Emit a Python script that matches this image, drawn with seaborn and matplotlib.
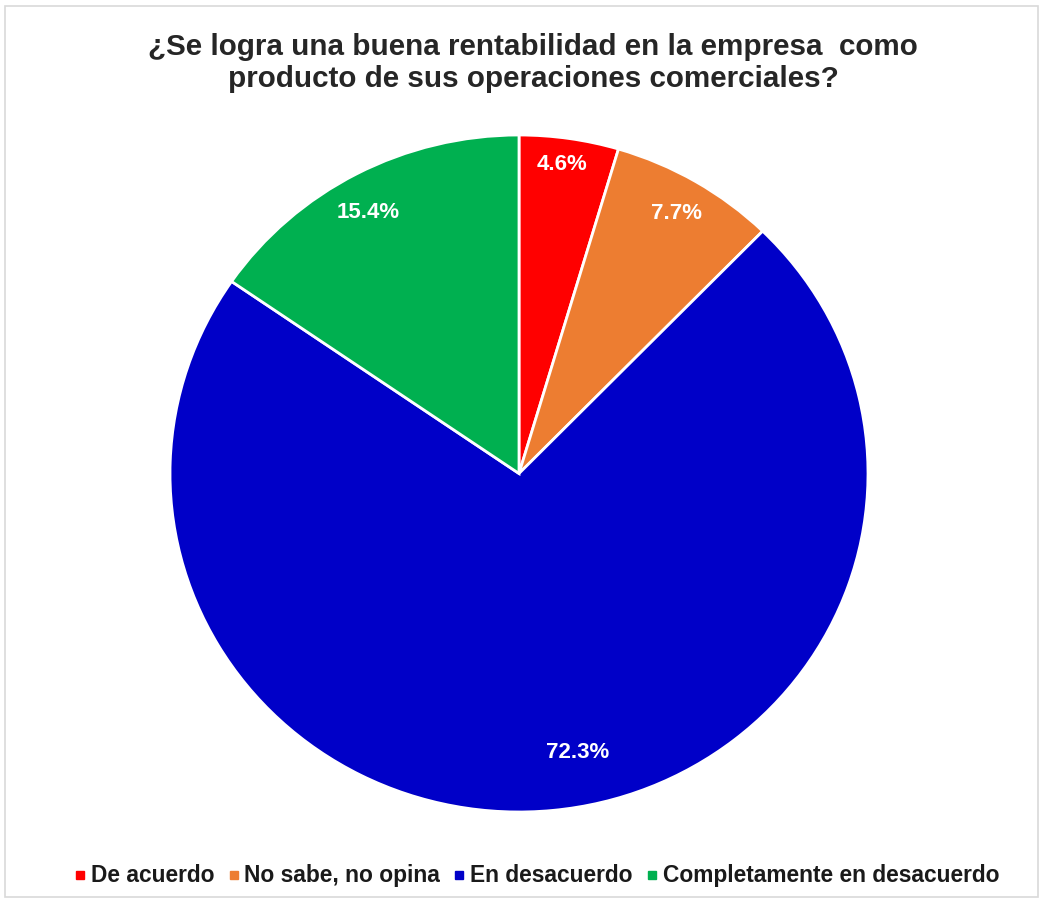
import matplotlib
matplotlib.use("Agg")
import matplotlib.pyplot as plt
from matplotlib.lines import Line2D
from matplotlib.patches import Rectangle
import seaborn as sns
import numpy as np

# Survey responses
categories = ["De acuerdo", "No sabe, no opina", "En desacuerdo",
              "Completamente en desacuerdo"]
shares = [4.6, 7.7, 72.3, 15.4]
colors = ["#FF0000", "#ED7D31", "#0000C8", "#00B050"]
title = ("¿Se logra una buena rentabilidad en la empresa  como\n"
         "producto de sus operaciones comerciales?")

sns.set_theme(style="white")
plt.rcParams["font.family"] = ["Liberation Sans", "DejaVu Sans"]

W, H = 1043, 901
fig = plt.figure(figsize=(W / 100, H / 100), dpi=100)
fig.patch.set_facecolor("white")

# light frame around the chart area
fig.add_artist(Rectangle((5 / W, 4 / H), 1033 / W, 891 / H,
                         transform=fig.transFigure, fill=False,
                         edgecolor="#D9D9D9", linewidth=1.2))

# pie bounding box in pixels: x 170..868, y 135..812
ax = fig.add_axes([170 / W, (H - 812) / H, 698 / W, 677 / H])
wedges, texts, autotexts = ax.pie(
    shares, colors=colors, startangle=90, counterclock=False,
    autopct="%.1f%%", pctdistance=0.89,
    wedgeprops=dict(edgecolor="white", linewidth=2),
    textprops=dict(color="white", fontsize=16, fontweight="bold"),
)
ax.set_aspect("auto")
ax.set_xlim(-1, 1)
ax.set_ylim(-1, 1)

# best-fit style label placement: radius and angular nudge per slice
label_radius = [0.92, 0.89, 0.84, 0.885]
label_nudge = [0.5, 0.0, 6.0, 1.5]
for w, t, r, d in zip(wedges, autotexts, label_radius, label_nudge):
    ang = np.deg2rad((w.theta1 + w.theta2) / 2 + d)
    t.set_position((r * np.cos(ang), r * np.sin(ang)))

fig.text(0.511, (H - 63) / H, title, ha="center", va="center",
         fontsize=21.3, fontweight="bold", color="#262626",
         linespacing=1.22)

# legend row along a common baseline
renderer = fig.canvas.get_renderer()
x_px = 80.0
marker_y = (H - 875) / H
baseline_y = (H - 882) / H
for label, c in zip(categories, colors):
    fig.add_artist(Line2D([x_px / W], [marker_y], marker="s", markersize=6,
                          markerfacecolor=c, markeredgecolor=c,
                          linestyle="none", transform=fig.transFigure))
    txt = fig.text((x_px + 11) / W, baseline_y, label, ha="left",
                   va="baseline", fontsize=16.4, fontweight="bold",
                   color="#1a1a1a")
    ext = txt.get_window_extent(renderer)
    x_px = ext.x1 + 19

fig.savefig("out.png", dpi=100, facecolor="white")
